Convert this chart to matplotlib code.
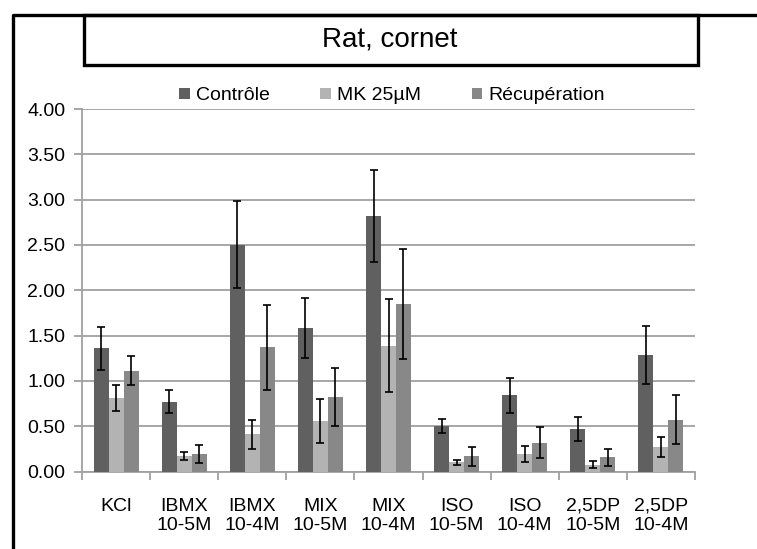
import matplotlib

matplotlib.use("Agg")
import matplotlib.pyplot as plt
import numpy as np
from matplotlib.lines import Line2D
from matplotlib.patches import Rectangle

plt.rcParams["font.family"] = ["Liberation Sans", "DejaVu Sans"]

categories = [
    "KCl",
    "IBMX\n10-5M",
    "IBMX\n10-4M",
    "MIX\n10-5M",
    "MIX\n10-4M",
    "ISO\n10-5M",
    "ISO\n10-4M",
    "2,5DP\n10-5M",
    "2,5DP\n10-4M",
]
series_names = ["Contrôle", "MK 25µM", "Récupération"]

controle = [1.36, 0.77, 2.50, 1.58, 2.82, 0.50, 0.84, 0.47, 1.29]
controle_err = [0.24, 0.125, 0.48, 0.33, 0.51, 0.08, 0.195, 0.13, 0.32]

mk = [0.81, 0.17, 0.41, 0.56, 1.39, 0.10, 0.19, 0.075, 0.27]
mk_err = [0.14, 0.04, 0.16, 0.24, 0.51, 0.03, 0.09, 0.04, 0.11]

recup = [1.11, 0.19, 1.37, 0.82, 1.85, 0.17, 0.32, 0.155, 0.57]
recup_err = [0.16, 0.10, 0.47, 0.32, 0.61, 0.105, 0.175, 0.09, 0.27]

colors = ["#606060", "#b3b3b3", "#888888"]
grid_color = "#a0a0a0"

W, H = 757, 549
fig = plt.figure(figsize=(W / 100, H / 100), dpi=100)

# axes placed in pixel terms
left, right, y0, y4 = 82, 695, 471.5, 109
ax = fig.add_axes([left / W, (H - y0) / H, (right - left) / W, (y0 - y4) / H])

x = np.arange(len(categories))
width = 0.22
values = [controle, mk, recup]
errors = [controle_err, mk_err, recup_err]
for i, (vals, errs, color, name) in enumerate(zip(values, errors, colors, series_names)):
    ax.bar(
        x + (i - 1) * width,
        vals,
        width,
        color=color,
        label=name,
        yerr=errs,
        error_kw=dict(ecolor="black", elinewidth=1.2, capsize=3, capthick=1.2),
        zorder=3,
    )

ax.set_xlim(-0.5, len(categories) - 0.5)
ax.set_ylim(0, 4)
ax.set_yticks(np.arange(0, 4.01, 0.5))
ax.set_yticklabels([f"{v:.2f}" for v in np.arange(0, 4.01, 0.5)], fontsize=14)
ax.yaxis.grid(True, color=grid_color, linewidth=1.3, zorder=0)
ax.set_axisbelow(True)

ax.set_xticks(x)
ax.set_xticklabels(categories, fontsize=14, linespacing=1.15)
ax.tick_params(axis="x", length=0, pad=19)
ax.set_xticks(np.arange(-0.5, len(categories), 1), minor=True)
ax.tick_params(axis="x", which="minor", length=6, color=grid_color, width=1.3)
ax.tick_params(axis="y", length=6, color=grid_color, width=1.3, pad=6)

for side in ["top", "right"]:
    ax.spines[side].set_visible(False)
for side in ["left", "bottom"]:
    ax.spines[side].set_color(grid_color)
    ax.spines[side].set_linewidth(1.3)

fig.legend(
    loc="center",
    bbox_to_anchor=(392 / W, 1 - 96 / H),
    ncol=3,
    frameon=False,
    fontsize=14,
    handlelength=0.55,
    handleheight=0.55,
    handletextpad=0.3,
    columnspacing=2.6,
)

# outer frame (runs off the right and bottom edges) and title box
fig.add_artist(Line2D([13 / W, 13 / W, 1.01], [-0.01, 1 - 15 / H, 1 - 15 / H],
                      transform=fig.transFigure, color="black", linewidth=2.4))
fig.add_artist(Rectangle((84 / W, 1 - 65 / H), (698 - 84) / W, 50 / H,
                         transform=fig.transFigure, fill=False,
                         edgecolor="black", linewidth=2.4))
fig.text(390 / W, 1 - 40 / H, "Rat, cornet", ha="center", va="center", fontsize=20)

fig.savefig("out.png", dpi=100)
